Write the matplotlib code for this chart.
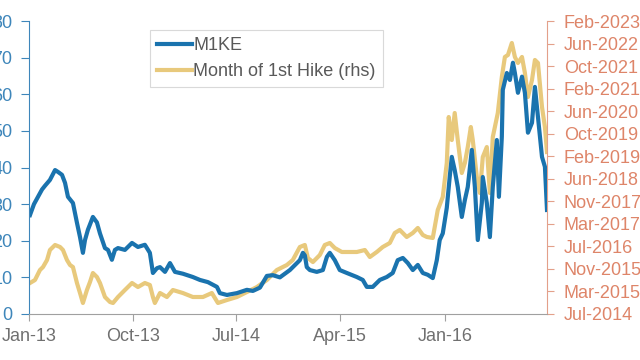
import datetime as dt
import matplotlib
matplotlib.use("Agg")
import matplotlib.pyplot as plt
import matplotlib.dates as mdates

plt.rcParams['font.family'] = ['Liberation Sans', 'DejaVu Sans']

# M1KE (lhs), dates as decimal years
m1ke_t = [2013.007, 2013.036, 2013.065, 2013.094, 2013.115, 2013.151, 2013.188, 2013.209,
          2013.238, 2013.260, 2013.281, 2013.317, 2013.346, 2013.368, 2013.389, 2013.404,
          2013.425, 2013.461, 2013.490, 2013.512, 2013.548, 2013.570, 2013.598, 2013.620,
          2013.642, 2013.692, 2013.743, 2013.786, 2013.836, 2013.872, 2013.894, 2013.923,
          2013.945, 2013.981, 2014.017, 2014.053, 2014.110, 2014.182, 2014.233, 2014.291,
          2014.356, 2014.377, 2014.428, 2014.500, 2014.572, 2014.615, 2014.666, 2014.716,
          2014.759, 2014.810, 2014.882, 2014.954, 2014.976, 2014.990, 2015.004, 2015.026,
          2015.076, 2015.120, 2015.149, 2015.170, 2015.206, 2015.242, 2015.293, 2015.365,
          2015.408, 2015.437, 2015.480, 2015.531, 2015.581, 2015.624, 2015.660, 2015.697,
          2015.733, 2015.769, 2015.805, 2015.841, 2015.877, 2015.913, 2015.942, 2015.963,
          2015.985, 2016.014, 2016.035, 2016.050, 2016.071, 2016.093, 2016.122, 2016.144,
          2016.165, 2016.194, 2016.216, 2016.237, 2016.266, 2016.273, 2016.302, 2016.324,
          2016.345, 2016.374, 2016.389, 2016.410, 2016.417, 2016.446, 2016.468, 2016.490,
          2016.504, 2016.526, 2016.555, 2016.576, 2016.598, 2016.627, 2016.648, 2016.670,
          2016.699, 2016.720, 2016.735]
m1ke_v = [27, 30, 32, 34, 35, 36.6, 39.3, 38.8,
          38, 35.8, 32, 30.3, 24.9, 21, 16.7, 20.2,
          23, 26.5, 25, 22, 18, 17.5, 14.8, 17.5,
          18, 17.5, 19.4, 18.3, 18.9, 16.7, 11.2, 12.5,
          12.8, 11.5, 13.9, 11.5, 11, 10.1, 9.3, 8.7,
          7.4, 5.7, 5.2, 5.7, 6.6, 6.3, 7.2, 10.4,
          10.6, 10, 12, 14.7, 16.7, 16, 12.8, 12,
          11.5, 12, 15.6, 16.7, 14.7, 12, 11.2, 10.1,
          9.3, 7.4, 7.4, 9.3, 10.1, 11.2, 14.7, 15.3,
          13.9, 12, 13.4, 11.2, 10.7, 9.8, 14.7, 20.2,
          22, 29, 37.4, 42.9, 39.3, 34.7, 26.5, 31.1,
          34.7, 44.8, 34.7, 20.2, 30.3, 37.4, 30.3, 21,
          34.7, 47.5, 32, 48.4, 61.2, 65.8, 63.9, 68.6,
          65.8, 60.4, 64.8, 60.4, 49.5, 52.2, 62, 53.8,
          42.9, 40.2, 28.4]

# Month of 1st hike (rhs), both as decimal years
hike_t = [2013.007, 2013.043, 2013.079, 2013.101, 2013.130, 2013.151, 2013.188, 2013.224,
          2013.245, 2013.274, 2013.296, 2013.317, 2013.346, 2013.368, 2013.389, 2013.418,
          2013.440, 2013.461, 2013.490, 2013.512, 2013.548, 2013.584, 2013.606, 2013.642,
          2013.692, 2013.743, 2013.786, 2013.836, 2013.872, 2013.894, 2013.908, 2013.945,
          2013.995, 2014.038, 2014.110, 2014.182, 2014.255, 2014.319, 2014.363, 2014.428,
          2014.500, 2014.572, 2014.644, 2014.716, 2014.788, 2014.860, 2014.903, 2014.954,
          2014.990, 2015.012, 2015.048, 2015.098, 2015.134, 2015.170, 2015.206, 2015.257,
          2015.314, 2015.365, 2015.423, 2015.459, 2015.509, 2015.552, 2015.603, 2015.639,
          2015.675, 2015.725, 2015.769, 2015.805, 2015.841, 2015.870, 2015.913, 2015.949,
          2015.985, 2016.014, 2016.028, 2016.050, 2016.071, 2016.093, 2016.122, 2016.144,
          2016.165, 2016.187, 2016.201, 2016.230, 2016.252, 2016.273, 2016.302, 2016.324,
          2016.345, 2016.381, 2016.410, 2016.432, 2016.454, 2016.482, 2016.504, 2016.526,
          2016.555, 2016.576, 2016.598, 2016.627, 2016.648, 2016.670, 2016.699, 2016.720,
          2016.735]
hike_v = [2015.452, 2015.539, 2015.831, 2015.918, 2016.122, 2016.414, 2016.560, 2016.501,
          2016.414, 2016.122, 2015.977, 2015.918, 2015.452, 2015.160, 2014.869, 2015.248,
          2015.481, 2015.743, 2015.627, 2015.452, 2015.044, 2014.898, 2014.869, 2015.044,
          2015.248, 2015.452, 2015.335, 2015.452, 2015.394, 2015.044, 2014.869, 2015.160,
          2015.044, 2015.248, 2015.160, 2015.044, 2015.044, 2015.160, 2014.869, 2014.956,
          2015.044, 2015.189, 2015.335, 2015.539, 2015.831, 2015.977, 2016.122, 2016.501,
          2016.560, 2016.181, 2016.064, 2016.268, 2016.560, 2016.618, 2016.472, 2016.356,
          2016.356, 2016.356, 2016.414, 2016.210, 2016.356, 2016.501, 2016.618, 2016.910,
          2016.997, 2016.793, 2016.910, 2017.055, 2016.851, 2016.793, 2016.764, 2017.580,
          2017.959, 2018.950, 2020.291, 2019.621, 2020.408, 2019.621, 2018.659, 2018.950,
          2019.417, 2020.000, 2019.621, 2018.542, 2018.076, 2019.125, 2019.417, 2018.076,
          2019.708, 2020.408, 2021.458, 2022.041, 2022.099, 2022.449, 2022.041, 2021.866,
          2022.041, 2021.574, 2020.874, 2021.370, 2021.953, 2021.866, 2020.583, 2020.000,
          2019.271]

x_ticks = ["2013-01-01", "2013-10-01", "2014-07-01", "2015-04-01", "2016-01-01"]
left_ticks = [0, 10, 20, 30, 40, 50, 60, 70, 80]
rhs_start = "2014-07-20"
rhs_step_days = 240
rhs_n = 14


def to_date(yr):
    y = int(yr)
    start = dt.datetime(y, 1, 1)
    ndays = (dt.datetime(y + 1, 1, 1) - start).days
    return start + dt.timedelta(days=(yr - y) * ndays)


blue = "#1A73AE"
gold = "#E8C97C"
lcol = "#3E86BA"
rcol = "#DE8569"
gray = "#707070"

fig = plt.figure(figsize=(6.4, 3.6), dpi=100)
ax = fig.add_axes([29 / 640, 1 - 314 / 360, 518 / 640, 293 / 360])
ax2 = ax.twinx()
ax.set_zorder(ax2.get_zorder() + 1)
ax.patch.set_visible(False)

l2, = ax2.plot([to_date(t) for t in hike_t], [mdates.date2num(to_date(v)) for v in hike_v],
               color=gold, lw=3.0, solid_joinstyle="round")
l1, = ax.plot([to_date(t) for t in m1ke_t], m1ke_v, color=blue, lw=3.0, solid_joinstyle="round")

ax.set_xlim(to_date(2013.0), to_date(2016.735))
ax.set_ylim(0, 80)
ax.set_yticks(left_ticks)
ax.set_xticks([dt.datetime.strptime(s, "%Y-%m-%d") for s in x_ticks])
ax.xaxis.set_major_formatter(mdates.DateFormatter("%b-%y"))

r0 = mdates.date2num(dt.datetime.strptime(rhs_start, "%Y-%m-%d"))
ax2.set_ylim(r0, r0 + rhs_step_days * (rhs_n - 1))
ax2.set_yticks([r0 + rhs_step_days * k for k in range(rhs_n)])
ax2.yaxis.set_major_formatter(mdates.DateFormatter("%b-%Y"))

for s in ["top", "right"]:
    ax.spines[s].set_visible(False)
for s in ["top", "left", "bottom"]:
    ax2.spines[s].set_visible(False)
ax.spines["left"].set_color(lcol)
ax.spines["bottom"].set_color("#A0A0A0")
ax2.spines["right"].set_color("#E3A08A")

ax.tick_params(axis="y", colors=lcol, labelsize=13, length=6, pad=6)
ax.tick_params(axis="y", labelcolor=lcol)
ax.tick_params(axis="x", colors="#A0A0A0", labelcolor=gray, labelsize=13, length=5, pad=5)
ax2.tick_params(axis="y", colors="#E3A08A", labelcolor=rcol, labelsize=13, length=5, pad=7)

leg = ax.legend([l1, l2], ["M1KE", "Month of 1st Hike (rhs)"], loc="upper left",
                bbox_to_anchor=(150 / 640, 1 - 30 / 360), bbox_transform=fig.transFigure,
                fontsize=13, frameon=True, fancybox=False, handlelength=1.9,
                handletextpad=0.1, labelspacing=0.5, borderpad=0.4, borderaxespad=0)
leg.get_frame().set_edgecolor("#D0D0D0")
leg.get_frame().set_linewidth(0.8)
for t in leg.get_texts():
    t.set_color("#595959")

fig.savefig("out.png", dpi=100)
